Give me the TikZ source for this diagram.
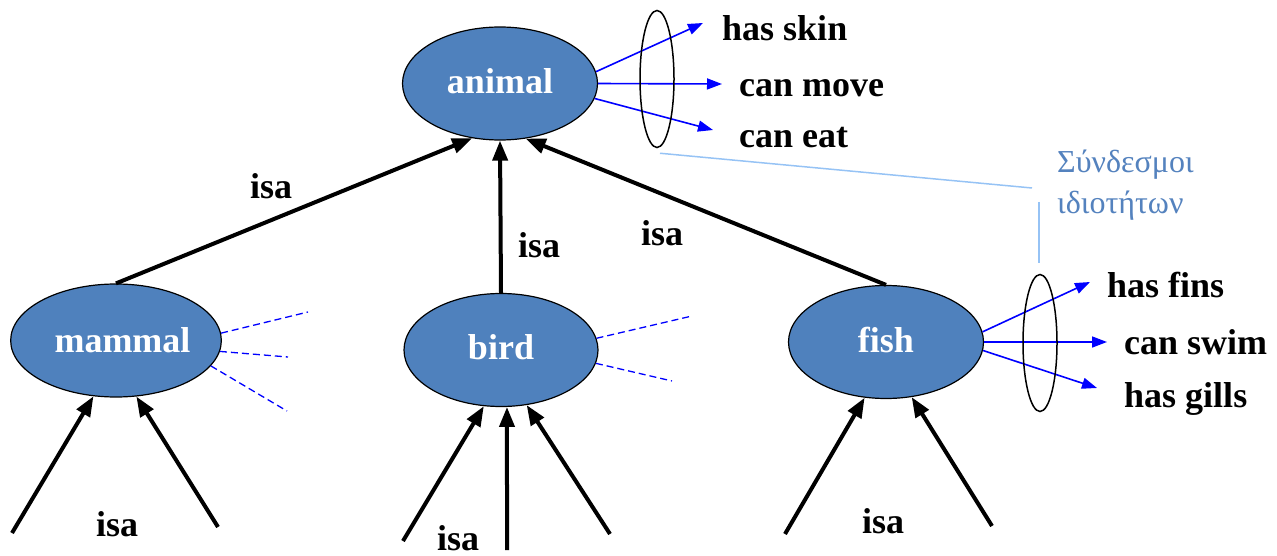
\documentclass[tikz,border=0pt]{standalone}
\usepackage{fontspec}
\setmainfont{Liberation Serif}
\usetikzlibrary{shapes.geometric, arrows.meta}
\definecolor{conceptblue}{HTML}{4F81BD}
\definecolor{notegreek}{RGB}{84,130,190}
\definecolor{notelink}{RGB}{150,195,245}

\begin{document}
\begin{tikzpicture}[x=1pt, y=-1pt,
    concept/.style={ellipse, draw, line width=1.2pt, fill=conceptblue, text=white, inner sep=0pt,
        minimum width=195pt, minimum height=113pt, font=\fontsize{36}{40}\selectfont\bfseries},
    isalink/.style={line width=4pt, -{Triangle[length=20pt, width=15pt]}},
    proplink/.style={blue, line width=1.6pt, -{Triangle[length=15pt, width=11pt]}},
    morelink/.style={blue, line width=1.3pt, dash pattern=on 7pt off 4pt},
    ring/.style={ellipse, draw, line width=1.5pt, inner sep=0pt, minimum width=34pt, minimum height=137pt},
    word/.style={anchor=base west, inner sep=0pt, font=\fontsize{36}{40}\selectfont\bfseries},
    callout/.style={notelink, line width=1.5pt}]
    \useasboundingbox (0,0) rectangle (1277,556);

    % concepts
    \node[concept] (animal) at (500,83.5) {\raisebox{4pt}{animal}};
    \node[concept, minimum width=203pt] (mammal) at (116,340.5) {\hspace*{13pt}mammal};
    \node[concept, minimum width=194pt] (bird) at (501,350) {\raisebox{5pt}{bird}};
    \node[concept] (fish) at (886,342) {\raisebox{4pt}{fish}};

    % isa links
    \draw[isalink] (mammal.north) -- (animal.243);
    \draw[isalink] (bird.north) -- (animal.south);
    \draw[isalink] (fish.north) -- (animal.295);

    \coordinate (mammalsub1) at (12,533);
    \coordinate (mammalsub2) at (218,527);
    \coordinate (birdsub1) at (403,541);
    \coordinate (birdsub2) at (507,550);
    \coordinate (birdsub3) at (610,534);
    \coordinate (fishsub1) at (785,534);
    \coordinate (fishsub2) at (992,526);
    \draw[isalink] (mammalsub1) -- (mammal.248);
    \draw[isalink] (mammalsub2) -- (mammal.290);
    \draw[isalink] (birdsub1) -- (bird.253);
    \draw[isalink] (birdsub2) -- (bird.276);
    \draw[isalink] (birdsub3) -- (bird.295);
    \draw[isalink] (fishsub1) -- (fish.249);
    \draw[isalink] (fishsub2) -- (fish.295);

    \node[word] (isaanimal1) at (250,199) {isa};
    \node[word] (isaanimal2) at (518,258) {isa};
    \node[word] (isaanimal3) at (641,246) {isa};
    \node[word] (isamammal) at (96,536) {isa};
    \node[word] (isabird) at (437,550) {isa};
    \node[word] (isafish) at (862,533) {isa};

    % property links of animal
    \coordinate (skinend) at (703,23);
    \coordinate (moveend) at (722,84);
    \coordinate (eatend) at (713,130);
    \draw[proplink] (animal.7) -- (skinend);
    \draw[proplink] (animal.east) -- (moveend);
    \draw[proplink] (animal.-9) -- (eatend);
    \node[ring] (animalprops) at (657,79) {};
    \node[word] (hasskin) at (722,41) {has skin};
    \node[word] (canmove) at (739,97) {can move};
    \node[word] (caneat) at (739,148) {can eat};

    % property links of fish
    \coordinate (finsend) at (1090,282);
    \coordinate (swimend) at (1107,342);
    \coordinate (gillsend) at (1097,388);
    \draw[proplink] (fish.6.5) -- (finsend);
    \draw[proplink] (fish.east) -- (swimend);
    \draw[proplink] (fish.-5) -- (gillsend);
    \node[ring] (fishprops) at (1040,343) {};
    \node[word] (hasfins) at (1107,297) {has fins};
    \node[word] (canswim) at (1124,354) {can swim};
    \node[word] (hasgills) at (1124,407) {has gills};

    % unspecified links
    \coordinate (mammalmore1) at (308,312);
    \coordinate (mammalmore2) at (288,357);
    \coordinate (mammalmore3) at (287,411);
    \coordinate (birdmore1) at (692,316);
    \coordinate (birdmore2) at (672,381);
    \draw[morelink] (mammal.4) -- (mammalmore1);
    \draw[morelink] (mammal.-6) -- (mammalmore2);
    \draw[morelink] (mammal.-15) -- (mammalmore3);
    \draw[morelink] (bird.7) -- (birdmore1);
    \draw[morelink] (bird.-8) -- (birdmore2);

    % callout
    \coordinate (calloutbend) at (1032,188);
    \coordinate (callouttop) at (1039,202);
    \draw[callout] ([xshift=3pt, yshift=-5pt]animalprops.south) -- (calloutbend);
    \draw[callout] (callouttop) -- ([xshift=-1pt, yshift=11pt]fishprops.north);
    \node[anchor=west, inner sep=0pt, align=left, text=notegreek,
        font=\fontsize{32}{41}\selectfont] (proplabel) at (1057,185) {Σύνδεσμοι\\ιδιοτήτων};
\end{tikzpicture}
\end{document}
